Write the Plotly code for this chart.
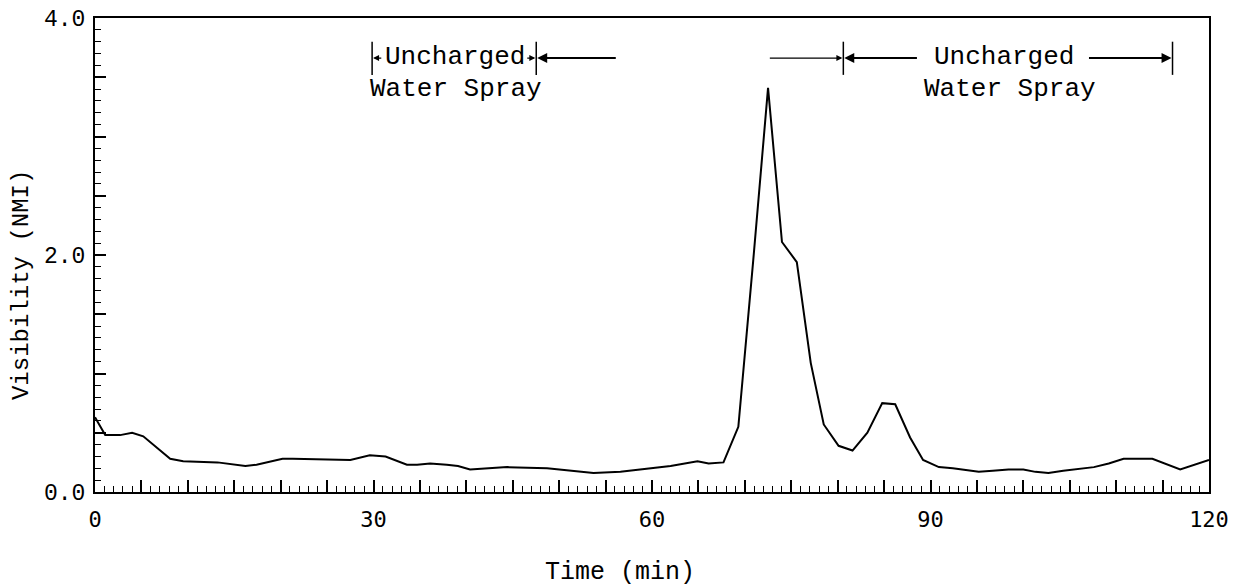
import plotly.graph_objects as go

# ---- data (time in min, visibility in NMI) ----
time_min = [0.0, 1.1, 2.7, 4.0, 5.2, 8.1, 9.5, 13.2, 16.2, 17.4, 20.2, 21.3,
            27.5, 29.6, 31.3, 33.6, 34.7, 36.1, 37.9, 39.1, 40.4, 44.4, 48.7,
            50.1, 53.7, 56.6, 59.5, 62.0, 64.9, 66.1, 67.7, 69.3, 70.9, 72.5,
            74.0, 75.6, 77.1, 78.5, 80.1, 81.6, 83.2, 84.8, 86.2, 87.8, 89.2,
            90.9, 92.4, 95.2, 96.7, 98.4, 100.0, 101.3, 102.7, 104.3, 107.6,
            109.2, 110.8, 112.3, 113.9, 116.9, 120.0]
visibility = [0.63, 0.48, 0.48, 0.50, 0.47, 0.28, 0.26, 0.25, 0.22, 0.23, 0.28, 0.28,
              0.27, 0.31, 0.30, 0.23, 0.23, 0.24, 0.23, 0.22, 0.19, 0.21, 0.20,
              0.19, 0.16, 0.17, 0.20, 0.22, 0.26, 0.24, 0.25, 0.55, 1.95, 3.41,
              2.11, 1.94, 1.09, 0.57, 0.39, 0.35, 0.50, 0.75, 0.74, 0.46, 0.27,
              0.21, 0.20, 0.17, 0.18, 0.19, 0.19, 0.17, 0.16, 0.18, 0.21,
              0.24, 0.28, 0.28, 0.28, 0.19, 0.27]

x_major = list(range(0, 121, 5))
x_labels = ["0", "30", "60", "90", "120"]
y_major = [i * 0.5 for i in range(9)]
y_labels = ["0.0", "2.0", "4.0"]

annot_text = "Uncharged"
annot_text2 = "Water Spray"

MONO = "Liberation Mono, Courier New, monospace"

fig = go.Figure()
fig.add_trace(go.Scatter(x=time_min, y=visibility, mode="lines",
                         line=dict(color="black", width=2), showlegend=False,
                         hoverinfo="skip"))

xt = [(str(v) if str(v) in x_labels else "") for v in x_major]
yt = [(f"{v:.1f}" if f"{v:.1f}" in y_labels else "") for v in y_major]

# the page body adds an 8px margin, so the figure is 8px smaller than the window
fig.update_layout(
    width=1240, height=578,
    margin=dict(l=87, r=39, t=10, b=94),
    paper_bgcolor="white", plot_bgcolor="white",
    xaxis=dict(range=[0, 120], tickmode="array", tickvals=x_major, ticktext=xt,
               ticks="inside", ticklen=12, tickwidth=1.5, tickcolor="black",
               minor=dict(tickmode="linear", tick0=0, dtick=1, ticks="inside",
                          ticklen=6, tickwidth=1.3, tickcolor="black"),
               showline=True, linewidth=2, linecolor="black", mirror=True,
               showgrid=False, zeroline=False, automargin=False,
               ticklabelstandoff=7, ticklabeloverflow="allow",
               tickfont=dict(family="DejaVu Sans Mono", size=22, color="black")),
    yaxis=dict(range=[0, 4], tickmode="array", tickvals=y_major, ticktext=yt,
               ticks="inside", ticklen=11, tickwidth=1.5, tickcolor="black",
               minor=dict(tickmode="linear", tick0=0, dtick=0.1, ticks="inside",
                          ticklen=6, tickwidth=1.3, tickcolor="black"),
               showline=True, linewidth=2, linecolor="black", mirror=True,
               showgrid=False, zeroline=False, automargin=False,
               ticklabelstandoff=3, ticklabeloverflow="allow",
               tickfont=dict(family=MONO, size=23, color="black")),
)

# axis titles
fig.add_annotation(text="Visibility (NMI)", xref="paper", yref="paper",
                   x=-0.0664, y=0.4367, textangle=-90, showarrow=False,
                   xanchor="center", yanchor="middle",
                   font=dict(family=MONO, size=24, color="black"))
fig.add_annotation(text="Time (min)", xref="paper", yref="paper",
                   x=0.4713, y=-0.1688, showarrow=False,
                   xanchor="center", yanchor="middle",
                   font=dict(family=MONO, size=25, color="black"))

tf = dict(family=MONO, size=26, color="black")
y_line = 3.662
ak = dict(text="", showarrow=True, arrowhead=2, arrowsize=1, axref="x", ayref="y",
          arrowcolor="black")
txt = dict(showarrow=False, font=tf, xanchor="center", yanchor="middle")
# ---- left bracket ----
for xb in (29.85, 47.53):
    fig.add_shape(type="line", x0=xb, x1=xb, y0=3.52, y1=3.80,
                  line=dict(color="black", width=1.5))
fig.add_annotation(x=38.8, y=3.67, text=annot_text, **txt)
fig.add_annotation(x=38.9, y=3.40, text=annot_text2, **txt)
fig.add_annotation(x=29.95, y=y_line, ax=31.0, ay=y_line, arrowwidth=1.2, **ak)
fig.add_annotation(x=47.43, y=y_line, ax=46.4, ay=y_line, arrowwidth=1.2, **ak)
fig.add_annotation(x=47.63, y=y_line, ax=56.26, ay=y_line, arrowwidth=2, **ak)
# ---- right bracket ----
for xb in (80.61, 116.07):
    fig.add_shape(type="line", x0=xb, x1=xb, y0=3.52, y1=3.80,
                  line=dict(color="black", width=1.5))
fig.add_annotation(x=97.96, y=3.67, text=annot_text, **txt)
fig.add_annotation(x=98.6, y=3.40, text=annot_text2, **txt)
fig.add_annotation(x=80.51, y=y_line, ax=72.53, ay=y_line, arrowwidth=1.2, **ak)
fig.add_annotation(x=80.71, y=y_line, ax=88.70, ay=y_line, arrowwidth=2, **ak)
fig.add_annotation(x=115.97, y=y_line, ax=106.91, ay=y_line, arrowwidth=2, **ak)

fig.write_html("out.html")
